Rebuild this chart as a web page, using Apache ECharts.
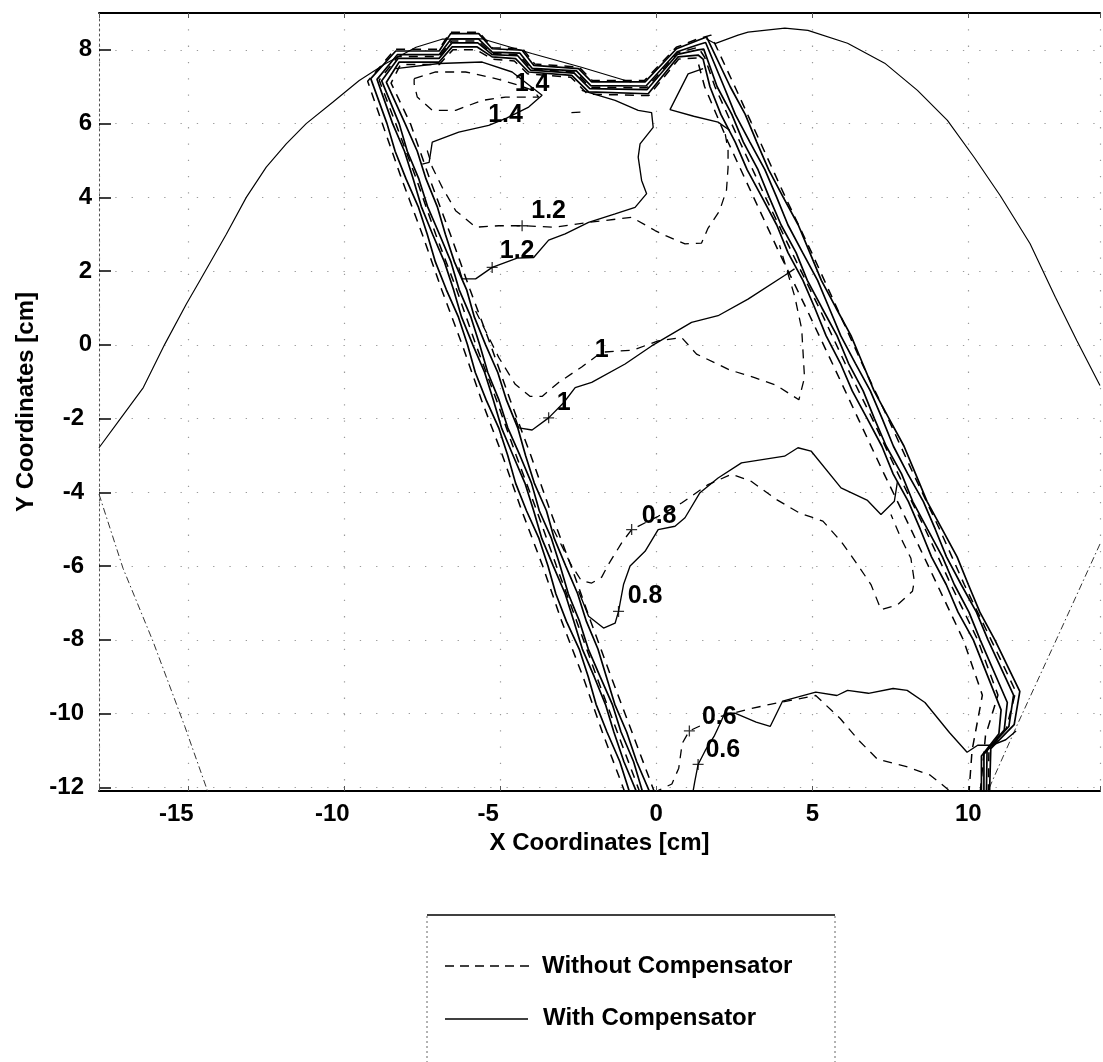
<!DOCTYPE html>
<html>
<head>
<meta charset="utf-8">
<script src="https://cdn.jsdelivr.net/npm/echarts@6.0.0/dist/echarts.min.js"></script>
<style>
  html, body { margin: 0; padding: 0; background: #fff; }
  #chart { width: 1103px; height: 1062px; }
</style>
</head>
<body>
<div id="chart"></div>
<script>
// ---- Isodose contour data (x, y in cm) ----

// Patient outline
const bodyOutlineLeft = [[-17.86,-2.79],[-17.19,-2.02],[-16.44,-1.16],[-15.75,0.02],[-15.06,1.11],[-14.63,1.74],[-13.78,3.0],[-13.14,4.0],[-12.5,4.82],[-11.86,5.45],[-11.22,6.0],[-10.37,6.58],[-9.52,7.17],[-8.67,7.63],[-7.7,8.07],[-6.87,8.29],[-5.59,8.3],[-3.99,7.9],[-2.4,7.53],[-0.8,7.12]];
const bodyOutlineRight = [[1.6,8.3],[1.88,8.17],[2.62,8.4],[2.94,8.48],[4.12,8.59],[4.86,8.53],[6.13,8.18],[7.32,7.64],[8.37,6.9],[9.33,6.09],[10.19,5.08],[11.02,4.05],[11.98,2.74],[12.79,1.29],[13.48,0.11],[14.22,-1.1]];
const outlineLowerLeft = [[-17.86,-4.05],[-17.09,-6.06],[-16.13,-8.04],[-15.11,-10.35],[-14.36,-12.15]];
const outlineLowerRight = [[14.22,-5.4],[12.84,-7.96],[11.57,-10.3],[10.6,-12.15]];

// Beam-edge isodose lines, with compensator (solid)
const edgeWith1 = [[-0.85,-12.15],[-1.17,-11.3],[-1.58,-10.5],[-1.93,-9.75],[-2.18,-9],[-2.47,-8.25],[-2.88,-7.5],[-3.22,-6.75],[-3.47,-6],[-3.76,-5.25],[-4.16,-4.5],[-4.51,-3.75],[-4.76,-3],[-5.05,-2.25],[-5.45,-1.5],[-5.8,-0.75],[-6.05,0],[-6.34,0.75],[-6.73,1.5],[-7.08,2.25],[-7.34,3],[-7.63,3.75],[-8.02,4.5],[-8.37,5.25],[-8.63,6],
  [-9.15,7.22],[-8.35,7.97],[-6.96,7.97],[-6.59,8.44],[-5.69,8.44],[-5.26,8.03],[-4.3,7.99],[-3.93,7.58],[-2.49,7.49],[-2.07,7.13],[-0.36,7.13],[0.65,8.03],[1.34,8.26],[1.61,8.35],
  [2.37,7],[2.85,6.25],[3.22,5.5],[3.6,4.75],[4.07,4],[4.55,3.25],[4.92,2.5],[5.29,1.75],[5.76,1],[6.24,0.25],[6.61,-0.5],[6.98,-1.25],[7.46,-2],[7.94,-2.75],[8.31,-3.5],[8.68,-4.25],[9.16,-5],[9.64,-5.75],[10.0,-6.5],[10.37,-7.25],[10.85,-8],[11.65,-9.4],[11.47,-10.3],[10.72,-10.95],[10.68,-12.15]];
const edgeWith2 = [[-0.62,-12.15],[-1.04,-11.3],[-1.36,-10.5],[-1.63,-9.75],[-1.99,-9],[-2.37,-8.25],[-2.64,-7.5],[-2.92,-6.75],[-3.30,-6],[-3.67,-5.25],[-3.93,-4.5],[-4.21,-3.75],[-4.59,-3],[-4.96,-2.25],[-5.22,-1.5],[-5.5,-0.75],[-5.88,0],[-6.24,0.75],[-6.50,1.5],[-6.79,2.25],[-7.17,3],[-7.53,3.75],[-7.79,4.5],[-8.07,5.25],[-8.45,6],
  [-8.95,7.2],[-8.3,7.87],[-6.96,7.87],[-6.57,8.3],[-5.7,8.3],[-5.26,7.94],[-4.37,7.91],[-3.98,7.5],[-2.56,7.43],[-2.1,7.03],[-0.33,7.02],[0.67,7.95],[1.34,8.14],[1.58,8.2],
  [2.17,7],[2.53,6.25],[3.0,5.5],[3.48,4.75],[3.86,4],[4.22,3.25],[4.69,2.5],[5.17,1.75],[5.54,1],[5.91,0.25],[6.38,-0.5],[6.86,-1.25],[7.24,-2],[7.6,-2.75],[8.06,-3.5],[8.56,-4.25],[8.94,-5],[9.3,-5.75],[9.77,-6.5],[10.26,-7.25],[10.63,-8],[11.45,-9.5],[11.3,-10.35],[10.6,-11.0],[10.58,-12.15]];
const edgeWith3 = [[-0.43,-12.15],[-0.73,-11.3],[-1.13,-10.5],[-1.41,-9.75],[-1.80,-9],[-2.18,-8.25],[-2.46,-7.5],[-2.82,-6.75],[-3.08,-6],[-3.36,-5.25],[-3.75,-4.5],[-4.0,-3.75],[-4.37,-3],[-4.76,-2.25],[-5.04,-1.5],[-5.4,-0.75],[-5.66,0],[-5.94,0.75],[-6.32,1.5],[-6.58,2.25],[-6.95,3],[-7.33,3.75],[-7.61,4.5],[-7.98,5.25],[-8.24,6],
  [-8.8,7.16],[-8.27,7.77],[-6.96,7.77],[-6.55,8.19],[-5.72,8.19],[-5.26,7.87],[-4.44,7.84],[-4.03,7.45],[-2.63,7.37],[-2.13,6.95],[-0.3,6.92],[0.68,7.88],[1.34,8.0],[1.52,8.02],
  [1.95,7],[2.42,6.25],[2.79,5.5],[3.26,4.75],[3.62,4],[4.0,3.25],[4.48,2.5],[4.84,1.75],[5.31,1],[5.79,0.25],[6.16,-0.5],[6.63,-1.25],[6.99,-2],[7.37,-2.75],[7.86,-3.5],[8.22,-4.25],[8.69,-5],[9.17,-5.75],[9.55,-6.5],[10.02,-7.25],[10.38,-8],[11.25,-9.7],[11.15,-10.45],[10.5,-11.1],[10.5,-12.15]];
const edgeWith4 = [[-0.20,-12.15],[-0.63,-11.3],[-0.95,-10.5],[-1.33,-9.75],[-1.60,-9],[-1.87,-8.25],[-2.24,-7.5],[-2.52,-6.75],[-2.90,-6],[-3.27,-5.25],[-3.52,-4.5],[-3.91,-3.75],[-4.19,-3],[-4.44,-2.25],[-4.80,-1.5],[-5.08,-0.75],[-5.47,0],[-5.83,0.75],[-6.08,1.5],[-6.47,2.25],[-6.76,3],[-7.02,3.75],[-7.38,4.5],[-7.66,5.25],[-8.05,6],
  [-8.65,7.12],[-8.24,7.67],[-6.96,7.67],[-6.54,8.08],[-5.74,8.08],[-5.26,7.81],[-4.51,7.76],[-4.09,7.4],[-2.71,7.31],[-2.17,6.86],[-0.26,6.81],[0.7,7.81],[1.34,7.86],[1.5,7.75],
  [1.72,7],[2.07,6.25],[2.53,5.5],[2.91,4.75],[3.39,4],[3.86,3.25],[4.22,2.5],[4.7,1.75],[5.08,1],[5.44,0.25],[5.90,-0.5],[6.28,-1.25],[6.76,-2],[7.23,-2.75],[7.59,-3.5],[8.08,-4.25],[8.46,-5],[8.82,-5.75],[9.29,-6.5],[9.67,-7.25],[10.16,-8],[11.05,-9.9],[10.98,-10.55],[10.42,-11.15],[10.42,-12.15]];

// Beam-edge isodose lines, without compensator (dashed)
const edgeWithout1 = [[-1.00,-12.15],[-1.73,-10.5],[-2.35,-9],[-3.03,-7.5],[-3.64,-6],[-4.31,-4.5],[-4.93,-3],[-5.60,-1.5],[-6.22,0],[-6.88,1.5],[-7.50,3],[-8.16,4.5],[-8.78,6],
  [-9.25,7.15],[-8.37,8.02],[-6.96,8.02],[-6.6,8.48],[-5.68,8.48],[-5.25,8.06],[-4.28,8.03],[-3.9,7.62],[-2.47,7.53],[-2.05,7.17],[-0.38,7.17],[0.64,8.07],[1.34,8.3],[1.75,8.4],
  [2.52,7],[3.33,5.5],[4.14,4],[4.98,2.5],[5.79,1],[6.59,-0.5],[7.43,-2],[8.24,-3.5],[9.08,-5],[9.87,-6.5],[10.73,-8],[11.52,-9.4],[11.22,-10.4],[10.66,-11.0],[10.64,-12.15]];
const edgeWithout2 = [[-0.52,-12.15],[-1.25,-10.5],[-1.91,-9],[-2.55,-7.5],[-3.20,-6],[-3.83,-4.5],[-4.49,-3],[-5.12,-1.5],[-5.78,0],[-6.40,1.5],[-7.07,3],[-7.69,4.5],[-8.35,6],
  [-8.88,7.18],[-8.28,7.82],[-6.96,7.82],[-6.56,8.24],[-5.71,8.24],[-5.26,7.9],[-4.4,7.87],[-4.0,7.47],[-2.6,7.4],[-2.12,6.99],[-0.31,6.97],[0.68,7.92],[1.34,8.07],[1.55,7.8],
  [1.88,7],[2.68,5.5],[3.50,4],[4.35,2.5],[5.22,1],[6.05,-0.5],[6.92,-2],[7.75,-3.5],[8.62,-5],[9.44,-6.5],[10.3,-8],[10.95,-9.5],[10.55,-10.6],[10.38,-12.15]];
const edgeWithout3 = [[-0.05,-12.15],[-0.78,-10.5],[-1.45,-9],[-2.10,-7.5],[-2.73,-6],[-3.40,-4.5],[-4.02,-3],[-4.68,-1.5],[-5.31,0],[-5.97,1.5],[-6.60,3],[-7.26,4.5],[-7.88,6],
  [-8.5,7.1],[-8.2,7.6],[-6.96,7.6],[-6.52,8.0],[-5.76,8.0],[-5.26,7.75],[-4.55,7.7],[-4.12,7.35],[-2.74,7.26],[-2.2,6.8],[-0.24,6.76],[0.72,7.75],[1.3,7.78],
  [1.55,7],[2.30,5.5],[3.12,4],[3.94,2.5],[4.80,1],[5.64,-0.5],[6.47,-2],[7.30,-3.5],[8.16,-5],[9.0,-6.5],[9.84,-8],[10.45,-9.5],[10.12,-11.0],[10.02,-12.15]];

// Interior isodose levels, with compensator (solid)
const with14 = [[-8.35,7.49],[-6.96,7.63],[-5.58,7.67],[-4.62,7.4],[-3.66,6.77],[-4.09,6.45],[-4.8,6.15],[-5.37,5.95],[-6.33,5.77],[-7.18,5.5],[-7.28,4.95],[-7.5,4.9]];
const with12 = [[-2.39,6.9],[-1.32,6.63],[-0.58,6.36],[-0.15,6.3],[-0.1,5.9],[-0.52,5.45],[-0.58,5.09],[-0.47,4.46],[-0.31,4.1],[-0.68,3.73],[-1.32,3.55],[-2.17,3.32],[-2.92,3.01],[-3.45,2.84],[-3.93,2.37],[-4.46,2.35],[-5.26,2.1],[-5.79,1.79],[-6.22,1.79],[-6.33,2.1]];
const with12Lobe = [[1.5,7.49],[1.02,7.35],[0.44,6.38],[1.2,6.2],[1.98,6.04],[2.35,5.82]];
const with10 = [[-4.52,-1.98],[-4.41,-2.25],[-3.98,-2.31],[-3.45,-1.98],[-2.97,-1.57],[-2.6,-1.16],[-2.07,-1.02],[-1.0,-0.52],[-0.15,-0.03],[1.13,0.61],[1.98,0.79],[2.94,1.24],[4.11,1.88],[4.43,2.06]];
const with08 = [[-2.49,-6.68],[-2.17,-7.36],[-1.69,-7.68],[-1.32,-7.55],[-1.21,-7.23],[-1.05,-6.5],[-0.84,-6.0],[-0.36,-5.6],[0.06,-5.01],[0.6,-4.92],[0.92,-4.69],[1.4,-4.01],[1.98,-3.61],[2.73,-3.2],[4.11,-3.02],[4.54,-2.79],[4.96,-2.88],[5.92,-3.88],[6.77,-4.22],[7.2,-4.6],[7.63,-4.24],[7.73,-3.7]];
const with06 = [[1.17,-12.15],[1.23,-11.86],[1.34,-11.38],[1.57,-11.0],[1.85,-10.62],[2.07,-10.23],[2.19,-9.99],[2.52,-9.99],[3.2,-10.23],[3.65,-10.35],[4.05,-9.66],[5.11,-9.42],[5.79,-9.51],[6.13,-9.37],[6.8,-9.45],[7.59,-9.32],[8.04,-9.37],[8.61,-9.7],[9.4,-10.52],[9.96,-11.05],[10.3,-10.86],[10.75,-10.86],[11.2,-10.71],[11.53,-10.47]];

// Interior isodose levels, without compensator (dashed)
const without14 = [[-7.76,7.22],[-7.07,7.4],[-6.11,7.4],[-5.15,7.22],[-4.41,7.04],[-3.95,6.9],[-3.77,6.72],[-4.83,6.72],[-5.58,6.63],[-6.43,6.36],[-7.18,6.36],[-7.66,6.72],[-7.76,7.08],[-7.76,7.22]];
const without14Spot = [[-2.72,6.3],[-2.42,6.31]];
const without12 = [[-7.34,5.27],[-7.18,4.82],[-6.86,4.27],[-6.43,3.64],[-5.79,3.19],[-5.05,3.23],[-4.3,3.23],[-3.24,3.19],[-2.17,3.32],[-0.79,3.46],[-0.04,3.1],[0.3,2.96],[0.92,2.74],[1.45,2.76],[1.65,3.15],[2.03,3.64],[2.25,4.2],[2.3,4.8],[2.3,5.27],[2.19,5.82]];
const without10 = [[-5.79,0.92],[-5.42,0.29],[-5.05,-0.34],[-4.52,-1.07],[-4.04,-1.4],[-3.66,-1.4],[-3.13,-1.02],[-2.39,-0.6],[-1.75,-0.2],[-0.73,-0.14],[0.06,0.11],[0.81,0.2],[1.29,-0.25],[2.35,-0.68],[3.15,-0.89],[3.83,-1.09],[4.57,-1.49],[4.75,-0.89],[4.66,0.43],[4.44,1.3],[3.95,2.7]];
const without08 = [[-3.3,-5.0],[-3.0,-5.5],[-2.76,-5.92],[-2.4,-6.4],[-2.07,-6.46],[-1.75,-6.3],[-1.53,-5.95],[-1.11,-5.37],[-0.79,-5.01],[0.06,-4.65],[0.81,-4.29],[1.66,-3.79],[2.41,-3.51],[3.04,-3.7],[3.84,-4.19],[4.59,-4.56],[5.34,-4.78],[5.92,-5.33],[6.45,-5.96],[6.88,-6.5],[7.2,-7.18],[7.73,-7.05],[8.21,-6.68],[8.27,-6.41],[8.16,-5.79],[7.84,-5.24],[7.52,-4.6]];
const without06 = [[-0.1,-12.15],[0.5,-11.91],[0.72,-11.48],[0.83,-10.81],[1.06,-10.47],[2.02,-10.09],[2.86,-9.9],[3.65,-9.75],[5.11,-9.51],[5.9,-10.14],[6.47,-10.71],[7.09,-11.24],[7.99,-11.43],[8.78,-11.67],[9.34,-12.05],[9.4,-12.15]];

// Contour labels
const labelX = [-3.98, -4.83, -3.45, -4.46, -1.75, -2.97, 0.09, -0.36, 2.02, 2.13];
const labelY = [7.08, 6.22, 3.62, 2.55, -0.14, -1.57, -4.65, -6.82, -10.09, -11.0];
const labelText = ['1.4', '1.4', '1.2', '1.2', '1', '1', '0.8', '0.8', '0.6', '0.6'];

// "+" markers placed by the contour labeller
const plusX = [-5.26, -4.3, -3.45, -0.79, -1.21, 1.06, 1.34];
const plusY = [2.1, 3.23, -1.98, -5.01, -7.23, -10.47, -11.38];

// Axis settings
const xRange = [-17.86, 14.22];
const yRange = [-12.1, 9];
const legendNames = ['Without Compensator', 'With Compensator'];

// ---- Chart ----
const FONT = '"Liberation Sans", Arial, Helvetica, sans-serif';
const DASH = [9, 7];

function contour(name, data, dashed, width) {
  return {
    type: 'line', name: name, data: data, xAxisIndex: 0, yAxisIndex: 0,
    symbol: 'none', showSymbol: false, silent: true, animation: false,
    lineStyle: { color: '#000', width: width || 1.25, type: dashed ? DASH : 'solid' },
    z: 3
  };
}

const solidEdges = [edgeWith1, edgeWith2, edgeWith3, edgeWith4];
const dashedEdges = [edgeWithout1, edgeWithout2, edgeWithout3];
const solidLines = [with14, with12, with12Lobe, with10, with08, with06];
const dashedLines = [without14, without14Spot, without12, without10, without08, without06];

const series = [];
series.push(contour('outline', bodyOutlineLeft, false, 1.15));
series.push(contour('outline', bodyOutlineRight, false, 1.15));
[outlineLowerLeft, outlineLowerRight].forEach(d => {
  series.push({
    type: 'line', name: 'outline', data: d, symbol: 'none', silent: true, animation: false,
    lineStyle: { color: '#333', width: 1, type: [7, 3, 1.5, 3] }, z: 2
  });
});
dashedEdges.forEach(d => series.push(contour(legendNames[0], d, true, 1.5)));
dashedLines.forEach(d => series.push(contour(legendNames[0], d, true, 1.3)));
solidEdges.forEach(d => series.push(contour(legendNames[1], d, false, 1.7)));
solidLines.forEach(d => series.push(contour(legendNames[1], d, false, 1.35)));

series.push({
  type: 'scatter', name: 'labels', silent: true, animation: false,
  data: labelText.map((t, i) => [labelX[i], labelY[i], t]),
  symbolSize: 0, itemStyle: { color: '#000', opacity: 1 },
  label: {
    show: true, position: 'inside', formatter: p => p.data[2],
    color: '#000', opacity: 1, textBorderWidth: 0,
    fontSize: 25, fontWeight: 'bold', fontFamily: FONT
  },
  z: 10
});
series.push({
  type: 'scatter', name: 'marks', silent: true, animation: false,
  data: plusX.map((x, i) => [x, plusY[i]]),
  symbol: 'path://M4.4,0H5.6V4.4H10V5.6H5.6V10H4.4V5.6H0V4.4H4.4Z',
  symbolSize: 11, itemStyle: { color: '#000' }, z: 9
});

function xTickLabel(v) {
  const r = Math.round(v);
  if (Math.abs(v - r) > 1e-6 || r % 5 !== 0) return '';
  return r < 0 ? '{n|' + r + '}' : '{p|' + r + '}';
}
function yTickLabel(v) {
  const r = Math.round(v);
  if (Math.abs(v - r) > 1e-6 || r % 2 !== 0) return '';
  return r < 0 ? '{n|' + r + '}' : '{p|' + r + '}';
}

const tickText = { color: '#000', fontSize: 24, fontWeight: 'bold', fontFamily: FONT };
const gridDots = { show: true, lineStyle: { color: '#9a9a9a', width: 1.2, type: [1.3, 15] } };

const option = {
  backgroundColor: '#fff',
  animation: false,
  grid: { left: 99, right: 0, top: 13, bottom: 271, containLabel: false },
  xAxis: [
    {
      type: 'value', position: 'bottom', min: xRange[0], max: xRange[1], splitNumber: 5,
      axisLine: { show: true, onZero: false, lineStyle: { color: '#000', width: 2 } },
      axisTick: { show: true, inside: true, length: 5, lineStyle: { color: '#555' } },
      axisLabel: {
        margin: 11, formatter: xTickLabel,
        rich: { n: Object.assign({ padding: [0, 24, 0, 0] }, tickText), p: Object.assign({}, tickText) }
      },
      splitLine: gridDots,
      name: 'X Coordinates [cm]', nameLocation: 'middle', nameGap: 39,
      nameTextStyle: { color: '#000', fontSize: 24, fontWeight: 'bold', fontFamily: FONT }
    },
    {
      type: 'value', position: 'top', min: xRange[0], max: xRange[1], splitNumber: 5,
      axisLine: { show: true, onZero: false, lineStyle: { color: '#000', width: 2 } },
      axisTick: { show: true, inside: true, length: 5, lineStyle: { color: '#555' } },
      axisLabel: { show: false }, splitLine: { show: false }
    }
  ],
  yAxis: {
    type: 'value', min: yRange[0], max: yRange[1], splitNumber: 10,
    axisLine: { show: true, onZero: false, lineStyle: { color: '#555', width: 1, type: [2, 3] } },
    axisTick: { show: true, inside: true, length: 12, lineStyle: { color: '#000', width: 1.5 } },
    axisLabel: {
      margin: 7, formatter: yTickLabel,
      rich: { n: Object.assign({ padding: [0, 8, 0, 0] }, tickText), p: Object.assign({}, tickText) }
    },
    splitLine: gridDots,
    name: 'Y Coordinates [cm]', nameLocation: 'middle', nameGap: 59, nameRotate: 90,
    nameTextStyle: { color: '#000', fontSize: 24, fontWeight: 'bold', fontFamily: FONT }
  },
  graphic: [
    // legend frame
    { type: 'line', shape: { x1: 427, y1: 915, x2: 835, y2: 915 }, style: { stroke: '#000', lineWidth: 1.6 }, silent: true },
    { type: 'line', shape: { x1: 427, y1: 916, x2: 427, y2: 1062 }, style: { stroke: '#666', lineWidth: 1, lineDash: [2, 3] }, silent: true },
    { type: 'line', shape: { x1: 835, y1: 916, x2: 835, y2: 1062 }, style: { stroke: '#666', lineWidth: 1, lineDash: [2, 3] }, silent: true },
    // legend entries
    { type: 'line', shape: { x1: 445, y1: 966, x2: 532, y2: 966 }, style: { stroke: '#000', lineWidth: 1.3, lineDash: [9, 6] }, silent: true },
    { type: 'text', x: 542, y: 966, style: { text: legendNames[0], fill: '#000', font: 'bold 24px ' + FONT, verticalAlign: 'middle' }, silent: true },
    { type: 'line', shape: { x1: 445, y1: 1019, x2: 528, y2: 1019 }, style: { stroke: '#000', lineWidth: 1.3 }, silent: true },
    { type: 'text', x: 543, y: 1018, style: { text: legendNames[1], fill: '#000', font: 'bold 24px ' + FONT, verticalAlign: 'middle' }, silent: true }
  ],
  series: series
};

const chart = echarts.init(document.getElementById('chart'), null, { renderer: 'canvas' });
chart.setOption(option);
</script>
</body>
</html>
